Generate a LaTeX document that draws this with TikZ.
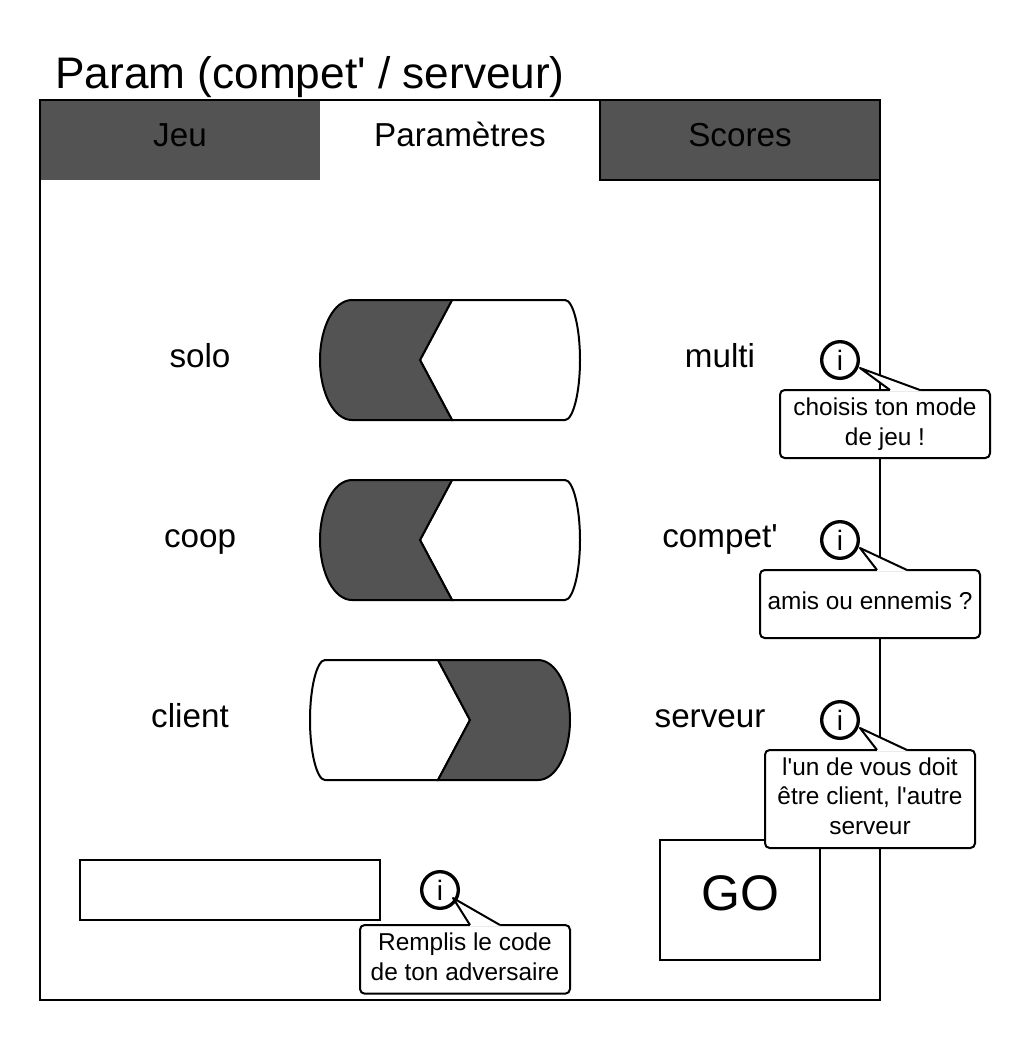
\documentclass[tikz,border=0pt]{standalone}
\usepackage{fontspec}
\setmainfont{Liberation Sans}[Ligatures=TeXOff]
\definecolor{darkfill}{HTML}{535353}
\tikzset{
  x=0.75pt,y=-0.75pt,
  line/.style={draw=black,line width=1.5pt},
  frame line/.style={draw=black,line width=1.2pt},
  title text/.style={inner sep=0,anchor=base west,font=\fontsize{33.15}{36}\selectfont},
  label text/.style={inner sep=0,anchor=base,font=\fontsize{24.9}{28}\selectfont},
  tip text/.style={inner sep=0,align=center,font=\fontsize{18.3}{22.2}\selectfont},
  tab/.style={inner sep=0,outer sep=0,minimum width=210pt,minimum height=60pt,anchor=north west},
  callout/.style={draw=black,line width=1.5pt,fill=white,rounded corners=3.5pt,inner sep=0,outer sep=0,anchor=north west},
  info/.style={circle,draw=black,line width=2.5pt,fill=white,minimum size=27.5pt,inner sep=0,font=\fontsize{21}{24}\selectfont},
  box/.style={draw=black,line width=1.5pt,fill=white,inner sep=0,outer sep=0,anchor=north west},
}
% tip x, tip y, base x1, base x2, base y
\newcommand{\tailshape}[5]{%
  \fill[white] (#1,#2) -- (#3,#5) -- (#3,{#5+1.3}) -- (#4,{#5+1.3}) -- (#4,#5) -- cycle;
  \draw[line,line join=round] (#3,#5) -- (#1,#2) -- (#4,#5);
}
\begin{document}
\begin{tikzpicture}
\useasboundingbox (0,0) rectangle (1030,1040);
\fill[white] (0,0) rectangle (1030,1040);

\node[title text] (title) at (55,88) {Param (compet' / serveur)};

% main frame
\draw[frame line] (40,100) rectangle (880,1000);

% tabs
\node[tab,fill=darkfill] (jeu) at (40,100) {};
\node[tab,fill=white] (par) at (320,100) {};
\node[tab,fill=darkfill] (sco) at (600,100) {};
\draw[frame line] (40,100) -- (880,100);
\draw[frame line] (40,100) -- (40,180);
\draw[frame line] (600,100) -- (600,180) -- (880,180) -- (880,100);
\node[label text] (jeut) at (180,146) {Jeu};
\node[label text] (part) at (460,146) {Paramètres};
\node[label text] (scot) at (740,146) {Scores};

% labels
\node[label text] (solo) at (200,367) {solo};
\node[label text] (multi) at (720,367) {multi};
\node[label text] (coop) at (200,547) {coop};
\node[label text] (compet) at (720,547) {compet'};
\node[label text] (client) at (190,727) {client};
\node[label text] (serveur) at (710,727) {serveur};

% toggles
\draw[line,fill=white] (452,300) -- (565,300) .. controls (573,300) and (580,327) .. (580,360) .. controls (580,393) and (573,420) .. (565,420) -- (452,420) -- (420,360) -- cycle;
\draw[line,fill=darkfill] (352,300) -- (452,300) -- (420,360) -- (452,420) -- (352,420) .. controls (334,420) and (320,393) .. (320,360) .. controls (320,327) and (334,300) .. (352,300) -- cycle;

\draw[line,fill=white] (452,480) -- (565,480) .. controls (573,480) and (580,507) .. (580,540) .. controls (580,573) and (573,600) .. (565,600) -- (452,600) -- (420,540) -- cycle;
\draw[line,fill=darkfill] (352,480) -- (452,480) -- (420,540) -- (452,600) -- (352,600) .. controls (334,600) and (320,573) .. (320,540) .. controls (320,507) and (334,480) .. (352,480) -- cycle;

\draw[line,fill=white] (325,660) -- (438,660) -- (470,720) -- (438,780) -- (325,780) .. controls (317,780) and (310,753) .. (310,720) .. controls (310,687) and (317,660) .. (325,660) -- cycle;
\draw[line,fill=darkfill] (438,660) -- (538,660) .. controls (556,660) and (570,687) .. (570,720) .. controls (570,753) and (556,780) .. (538,780) -- (438,780) -- (470,720) -- cycle;

% input and GO
\node[box,minimum width=225pt,minimum height=45pt] (input) at (80,860) {};
\node[box,minimum width=120pt,minimum height=90pt] (go) at (660,840) {};
\node[inner sep=0,anchor=base,font=\fontsize{37.5}{42}\selectfont] (gotext) at (740,910) {GO};

% info 1
\node[info] (i1) at (840,360) {i};
\node[callout,minimum width=157.5pt,minimum height=51pt] (c1) at (780,390) {};
\tailshape{860}{368}{890}{920}{390}
\node[tip text] (t1) at (885,424) {choisis ton mode\\de jeu !};

% info 2
\node[info] (i2) at (840,540) {i};
\node[callout,minimum width=165pt,minimum height=51pt] (c2) at (760,570) {};
\tailshape{860}{548}{877}{907}{570}
\node[tip text] (t2) at (870,601) {amis ou ennemis ?};

% info 3
\node[info] (i3) at (840,720) {i};
\node[callout,minimum width=157.5pt,minimum height=73.5pt] (c3) at (765,750) {};
\tailshape{860}{728}{877}{907}{750}
\node[tip text] (t3) at (870,796) {l'un de vous doit\\être client, l'autre\\serveur};

% info 4
\node[info] (i4) at (440,890) {i};
\node[callout,minimum width=157.5pt,minimum height=51.5pt] (c4) at (360,925) {};
\tailshape{453}{898}{470}{500}{925}
\node[tip text] (t4) at (465,957) {Remplis le code\\de ton adversaire};
\end{tikzpicture}
\end{document}
